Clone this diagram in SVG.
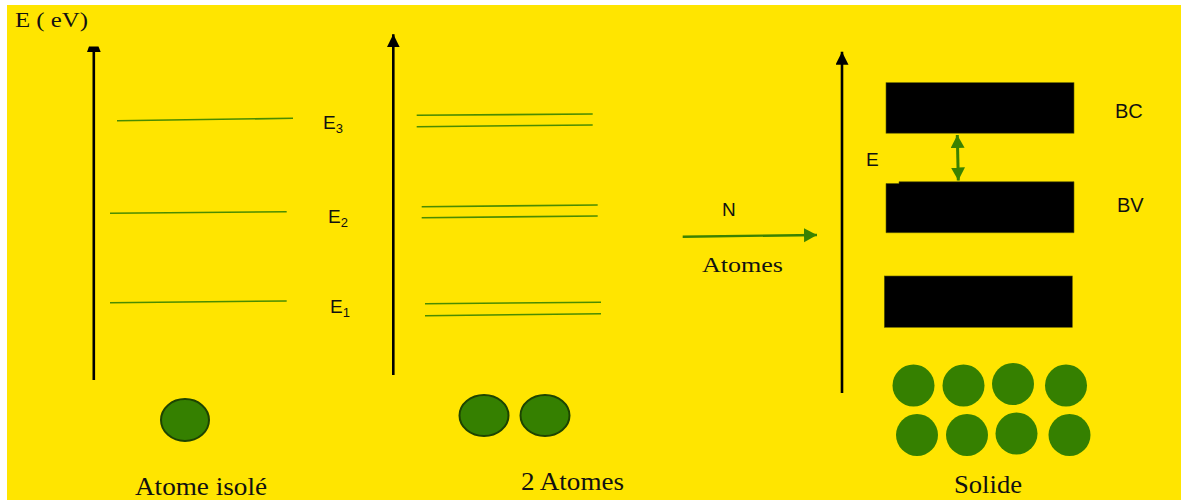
<svg xmlns="http://www.w3.org/2000/svg" width="1181" height="501" viewBox="0 0 1181 501">
<style>
.serif{font-family:"Liberation Serif","Times New Roman",serif;fill:#111}
.sans{font-family:"Liberation Sans",Arial,sans-serif;fill:#111}
.lvl{stroke:#4a8c00;stroke-width:1.6;fill:none}
.axis{stroke:#000;stroke-width:2.6;fill:none}
.band{fill:#000;stroke:#5a5a00;stroke-width:0.6}
.atom{fill:#358000}
.atom2{fill:#358000;stroke:#1d4400;stroke-width:2}
</style>
<defs>
<marker id="ah" markerUnits="userSpaceOnUse" markerWidth="14" markerHeight="14" refX="13" refY="6.5" orient="auto">
<path d="M0,0 L13,6.5 L0,13 z" fill="#000"/>
</marker>
<marker id="gh" markerUnits="userSpaceOnUse" markerWidth="15" markerHeight="15" refX="13" refY="7" orient="auto-start-reverse">
<path d="M0,0 L13,7 L0,14 z" fill="#3a8200"/>
</marker>
</defs>
<rect x="0" y="0" width="1181" height="501" fill="#fff"/>
<rect x="7" y="5" width="1174" height="495" fill="#FFE500"/>

<text id="axis-label" class="serif" x="15" y="27" font-size="21" textLength="73" lengthAdjust="spacingAndGlyphs">E ( eV)</text>

<g id="atome-isole">
<line class="lvl" x1="117" y1="120.7" x2="293" y2="118.3"/>
<line class="lvl" x1="110" y1="213.3" x2="286.7" y2="211.7"/>
<line class="lvl" x1="110" y1="302.7" x2="286.7" y2="301"/>
<text class="sans" x="323" y="129" font-size="19">E<tspan font-size="13" dy="4">3</tspan></text>
<text class="sans" x="328" y="223" font-size="19">E<tspan font-size="13" dy="4">2</tspan></text>
<text class="sans" x="330" y="313" font-size="19">E<tspan font-size="13" dy="4">1</tspan></text>
<ellipse class="atom2" cx="185" cy="420" rx="24" ry="21"/>
<text class="serif" x="135" y="495" font-size="26" textLength="132" lengthAdjust="spacingAndGlyphs">Atome isolé</text>
</g>

<g id="deux-atomes">
<line class="lvl" x1="416.7" y1="115.3" x2="592.7" y2="114"/>
<line class="lvl" x1="416.7" y1="126.7" x2="592.7" y2="125"/>
<line class="lvl" x1="421.7" y1="206.7" x2="597.7" y2="205"/>
<line class="lvl" x1="421.7" y1="217.7" x2="597.7" y2="216"/>
<line class="lvl" x1="425" y1="303.7" x2="601" y2="302.3"/>
<line class="lvl" x1="425" y1="315.7" x2="601" y2="313.7"/>
<ellipse class="atom2" cx="484" cy="415.5" rx="24.5" ry="20.5"/>
<ellipse class="atom2" cx="545" cy="415.5" rx="24.5" ry="20.5"/>
<text class="serif" x="521" y="490" font-size="26" textLength="103" lengthAdjust="spacingAndGlyphs">2 Atomes</text>
</g>

<g id="transition">
<text class="sans" x="722" y="216" font-size="19">N</text>
<text class="serif" x="702" y="272" font-size="22" textLength="81" lengthAdjust="spacingAndGlyphs">Atomes</text>
</g>

<g id="solide">
<rect class="band" x="886" y="82.7" width="188" height="50.5"/>
<polygon class="band" points="886,183.5 899,183.5 899,181.7 1074,181.7 1074,232.7 886,232.7"/>
<rect class="band" x="884.3" y="276" width="188" height="51.3"/>
<text class="sans" x="866" y="166" font-size="19" fill="#1a0800">E</text>
<text class="sans" x="1115" y="118" font-size="20">BC</text>
<text class="sans" x="1117" y="212" font-size="20">BV</text>
<circle class="atom" cx="913.5" cy="385.5" r="21"/>
<circle class="atom" cx="963.5" cy="385.5" r="21"/>
<circle class="atom" cx="1013" cy="384" r="21"/>
<circle class="atom" cx="1066" cy="385.5" r="21"/>
<circle class="atom" cx="917" cy="435" r="21"/>
<circle class="atom" cx="967" cy="435" r="21"/>
<circle class="atom" cx="1016.5" cy="433.5" r="21"/>
<circle class="atom" cx="1069.5" cy="435" r="21"/>
<text class="serif" x="954" y="493" font-size="26" textLength="68" lengthAdjust="spacingAndGlyphs">Solide</text>
</g>

<g id="connectors">
<line class="axis" x1="93.8" y1="380" x2="93.8" y2="51"/>
<polygon points="89,46.5 98.5,46.5 100.7,52 87,52" fill="#000"/>
<line class="axis" x1="393.3" y1="375" x2="393.3" y2="34.3" marker-end="url(#ah)"/>
<line class="axis" x1="842" y1="393" x2="842" y2="51.7" marker-end="url(#ah)"/>
<line x1="682.7" y1="236.7" x2="817" y2="235" stroke="#3a8200" stroke-width="2.4" marker-end="url(#gh)"/>
<line x1="957.3" y1="135" x2="958.3" y2="180.5" stroke="#3a8200" stroke-width="3" marker-start="url(#gh)" marker-end="url(#gh)"/>
</g>
</svg>
